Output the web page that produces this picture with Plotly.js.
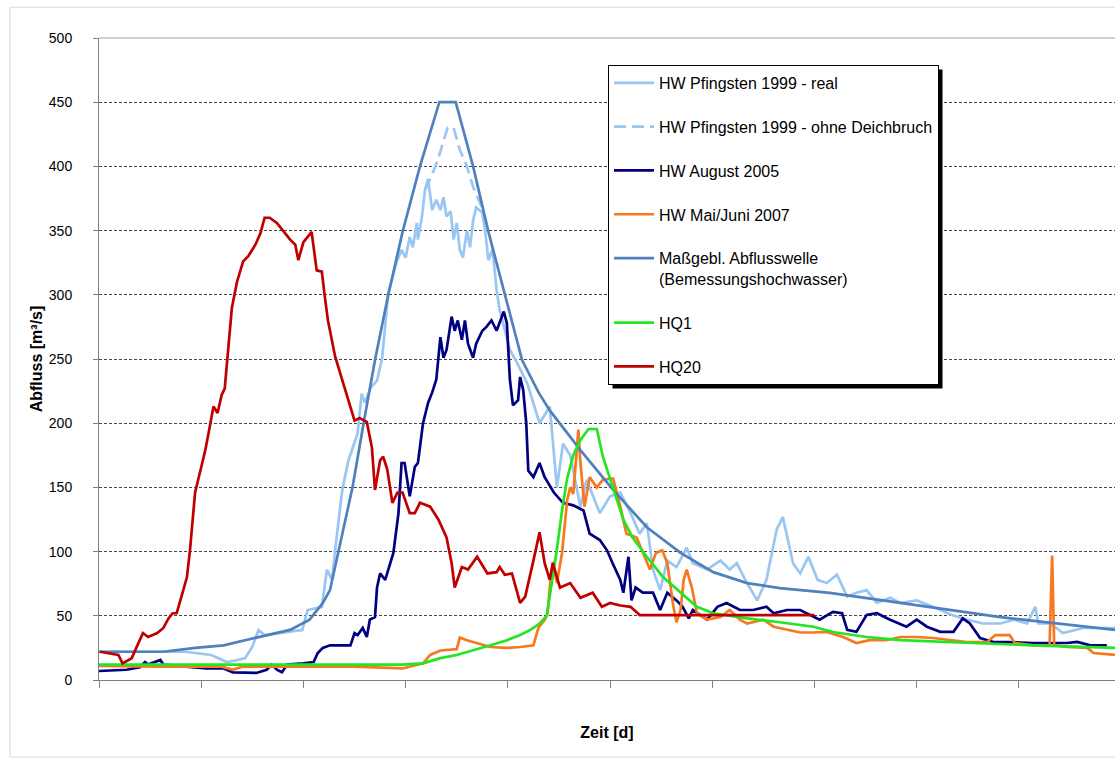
<!DOCTYPE html>
<html>
<head>
<meta charset="utf-8">
<script src="https://cdn.plot.ly/plotly-3.0.1.min.js"></script>
<style>html,body{margin:0;padding:0;background:#fff;}#chart{width:1115px;height:763px;}</style>
</head>
<body>
<div id="chart"></div>
<script>
// ---- Data (x in days, y in m³/s) ----
const seriesNames = [
  "HW Pfingsten 1999 - real",
  "HW Pfingsten 1999 - ohne Deichbruch",
  "HW August 2005",
  "HW Mai/Juni 2007",
  "Maßgebl. Abflusswelle<br>(Bemessungshochwasser)",
  "HQ1",
  "HQ20"
];

const real1999X = [0,0.84,1.1,1.2,1.25,1.36,1.43,1.5,1.56,1.62,1.79,1.99,2.04,2.18,2.23,2.28,2.31,2.38,2.44,2.53,2.57,2.6,2.66,2.72,2.77,2.83,
  2.91,2.96,3.0,3.04,3.07,3.11,3.12,3.16,3.19,3.22,3.26,3.3,3.34,3.37,3.4,3.44,3.47,3.5,3.53,3.56,3.6,3.63,3.66,3.69,3.75,3.78,3.81,3.85,3.89,3.92,
  4.02,4.09,4.19,4.31,4.41,4.48,4.54,4.61,4.71,4.77,4.9,5.0,5.1,5.2,5.29,5.36,5.42,5.49,5.56,5.65,5.75,5.81,5.95,6.08,6.17,6.24,6.34,6.44,6.53,6.63,6.69,6.79,6.86,6.94,7.03,7.12,7.22,7.32,7.41,7.51,7.61,7.74,7.84,8.0,8.16,8.33,8.49,8.65,8.82,8.95,9.08,9.16,9.19,9.31,9.43,9.63,9.94];
const real1999Y = [22,22,19.5,15.6,14,15.6,17,26,39,35,36.6,39,54.5,57,86,78,101,148,171,192,223,216,228,233,251,301,
  325,335,329,345,337,356,343,361,382,390,366,374,366,376,361,365,343,356,335,329,350,337,358,368,364,348,327,335,304,288,
  257,247,231,200,213,150,184,175,135,156,130,143,146,130,114,122,86,70,93,88,103,91,86,93,86,91,75.5,62,78,117,127,91,83,96,78,75.5,82,65,68,70,60,64,60,62,57,51,47,44,44,47,44,57,44,44,36.6,40.5,40.5];

const ohne1999X = [3.19,3.26,3.31,3.37,3.41,3.47,3.53,3.6,3.66,3.73,3.77];
const ohne1999Y = [382,394,404,420,430,430,413,400,384,371,364];

const aug2005X = [0,0.27,0.4,0.45,0.48,0.6,0.63,0.89,1.05,1.22,1.31,1.54,1.64,1.69,1.74,1.79,1.84,2.0,2.1,2.14,2.19,2.26,2.46,2.5,2.53,2.58,2.62,2.65,2.7,2.72,2.75,2.8,2.85,2.88,2.93,2.96,2.99,3.04,3.09,3.12,3.17,3.22,3.26,3.3,3.34,3.37,3.4,3.45,3.48,3.51,3.55,3.58,3.61,3.66,3.69,3.75,3.79,3.84,3.89,3.96,3.99,4.02,4.05,4.1,4.12,4.15,4.18,4.2,4.25,4.31,4.36,4.45,4.54,4.64,4.74,4.8,4.9,4.97,5.03,5.1,5.13,5.18,5.21,5.25,5.32,5.42,5.49,5.56,5.65,5.71,5.77,5.81,5.95,6.05,6.14,6.27,6.4,6.53,6.6,6.73,6.86,6.99,7.05,7.18,7.27,7.32,7.41,7.51,7.61,7.74,7.9,8.0,8.1,8.23,8.36,8.45,8.52,8.62,8.75,8.88,9.14,9.47,9.57,9.7,9.86];
const aug2005Y = [7,8,10,14,12,15.6,12,10,9,9,6,5.5,8,12,8,6,12,13,14,21,25,27,27,36.6,35,40.5,33.5,47,49,72,83,78,91,99,130,169,169,143,166,169,200,216,224,234,267,251,257,283,272,280,265,280,262,251,262,272,275,280,272,287,278,234,214,218,236,226,200,163,158,169,158,146,138,136,132,114,109,101,90,78,68,96,62,72,68,68,54.5,68,62,57,48,54.5,47,57,60,54.5,54.5,57,52,54.5,54.5,49,47,53,52,39,37.5,50.6,52,47,41.5,47,41.5,37.5,37.5,48,44,32.7,29.6,29.6,28.8,28.8,29.6,27,27];

const mai2007X = [0,0.6,1.2,1.31,1.4,2.0,2.5,2.97,3.17,3.24,3.34,3.5,3.53,3.6,3.7,3.83,3.99,4.12,4.25,4.3,4.36,4.39,4.41,4.44,4.48,4.53,4.58,4.61,4.64,4.69,4.71,4.75,4.8,4.87,4.93,5.03,5.1,5.16,5.26,5.32,5.39,5.45,5.51,5.56,5.62,5.65,5.69,5.72,5.75,5.8,5.85,5.95,6.08,6.17,6.27,6.34,6.5,6.6,6.73,6.86,6.99,7.12,7.28,7.41,7.54,7.7,7.84,8.0,8.16,8.33,8.49,8.69,8.77,8.91,8.96,9.14,9.3,9.325,9.345,9.47,9.67,9.73,9.94];
const mai2007Y = [11,10.4,10.4,8,10.4,10.4,10.4,9,13,19.5,23,24,33,31,28.8,25.7,25,25.7,27,41,46.7,52,72,92,75.5,99,140,150,145,195,169,135,158,150,156,157,135,114,111,99,86,99,101,91,57,45,54.5,78,86,72,52,47,49,54.5,47,44,47,41.5,39,37,37,37.4,33.5,28.8,31,31,33.5,33.5,32.7,31,29.6,29.6,35,35,28.8,27,27,97,27,25.7,25,21,19.5];

const bemessX = [0,0.63,0.94,1.22,1.54,1.87,2.06,2.19,2.26,2.34,2.48,2.6,2.7,2.83,2.97,3.14,3.33,3.49,3.66,3.81,3.97,4.14,4.3,4.41,4.71,5.03,5.36,5.69,6.01,6.34,6.66,6.86,7.15,7.84,8.82,9.94];
const bemessY = [22,22,25,27,33,39,47,60,70,99,150,205,249,300,349,400,450,450,400,349,300,249,224,210,179,148,119,99,84,75.5,71.6,70,67.8,60,49,39];

const hq1X = [0,2.97,3.17,3.34,3.5,3.66,3.83,3.99,4.12,4.22,4.31,4.38,4.43,4.48,4.53,4.58,4.64,4.71,4.79,4.87,4.93,5.03,5.13,5.22,5.36,5.52,5.69,5.85,6.01,6.34,6.66,6.99,7.18,7.51,7.84,8.49,9.14,9.94];
const hq1Y = [12,12,13,17,19.5,23,27,31,35,39,44,50,75,102,132,157,175,187,195.5,195.5,174,150,125,111,96,80,68,57,52,48,45,41.5,37.4,33.5,31,28.8,27,25];

const hq20X = [0.01,0.09,0.19,0.23,0.32,0.37,0.43,0.48,0.57,0.63,0.68,0.72,0.76,0.81,0.86,0.89,0.94,1.01,1.04,1.09,1.12,1.16,1.2,1.23,1.26,1.3,1.35,1.41,1.46,1.53,1.58,1.62,1.67,1.74,1.8,1.87,1.92,1.95,2.0,2.08,2.13,2.18,2.21,2.24,2.31,2.39,2.44,2.5,2.55,2.62,2.67,2.7,2.75,2.78,2.82,2.87,2.92,2.97,3.04,3.09,3.14,3.24,3.32,3.4,3.45,3.48,3.55,3.61,3.7,3.8,3.89,3.92,3.97,4.04,4.12,4.17,4.25,4.31,4.36,4.41,4.44,4.51,4.61,4.71,4.83,4.92,5.0,5.1,5.2,5.29,7.0];
const hq20Y = [22,21,19.5,13,17,26,36.6,33.5,36.6,40.5,48,52,52,66,80,101,146,169,179,200,213,208,222,227,252,290,310,326,330,339,348,360,360,356,350,343,339,327,341,349,319,318,298,280,252,231,216,202,204,201,181,148,171,174,164,138,146,146,130,130,138,135,125,111,91,72,88,86,96,83,84,88,82,83,60,65,93,115,91,78,91,72,75.5,64,68,57,60,58,57,50.6,50.6];

const yTicks = [0,50,100,150,200,250,300,350,400,450,500];
const xTicks = [0,1,2,3,4,5,6,7,8,9];

// ---- Styles ----
const colors = ["#99c6f2","#99c6f2","#000080","#f7781e","#4f81bd","#22e622","#c00000"];
const xs = [real1999X, ohne1999X, aug2005X, mai2007X, bemessX, hq1X, hq20X];
const ys = [real1999Y, ohne1999Y, aug2005Y, mai2007Y, bemessY, hq1Y, hq20Y];

const traces = seriesNames.map((n, i) => ({
  type: "scatter", mode: "lines", name: n,
  x: xs[i], y: ys[i],
  legendgroup: "g" + i,
  line: {color: colors[i], width: 2.7, dash: i === 1 ? "12px,6px" : "solid"},
  hoverinfo: "skip"
}));

const font = "Liberation Sans, Arial, sans-serif";
const layout = {
  width: 1115, height: 763,
  margin: {l: 99, r: 0, t: 38, b: 83},
  paper_bgcolor: "#fff", plot_bgcolor: "#fff",
  font: {family: font, size: 14, color: "#000"},
  showlegend: true,
  legend: {
    x: 0.501, y: 0.958, xanchor: "left", yanchor: "top",
    bgcolor: "#fff", bordercolor: "#000", borderwidth: 1,
    font: {family: font, size: 16, color: "#000"},
    tracegroupgap: 20, itemwidth: 40, valign: "top",
    traceorder: "grouped"
  },
  xaxis: {
    range: [0, 9.94], tickvals: xTicks, showticklabels: false,
    ticks: "outside", ticklen: 7, tickcolor: "#7f7f7f", tickwidth: 1,
    showline: true, linecolor: "#7f7f7f", linewidth: 1,
    showgrid: false, zeroline: false, fixedrange: true,
    title: {text: "<b>Zeit [d]</b>", font: {family: font, size: 16}, standoff: 39}
  },
  yaxis: {
    range: [0, 500], tickvals: yTicks, ticktext: yTicks.map(String),
    ticks: "outside", ticklen: 5, tickcolor: "#7f7f7f", tickwidth: 1,
    ticklabelstandoff: 18,
    tickfont: {family: font, size: 14, color: "#000"},
    showline: true, linecolor: "#7f7f7f", linewidth: 1,
    showgrid: true, gridcolor: "#444", griddash: "3px,2px", gridwidth: 1,
    zeroline: false, fixedrange: true,
    title: {text: "<b>Abfluss [m³/s]</b>", font: {family: font, size: 16}, standoff: 2}
  },
  shapes: [
    {type: "rect", xref: "paper", yref: "paper", x0: -0.0876, x1: 1.02, y0: -0.12, y1: 1.048,
     line: {color: "#d9d9d9", width: 1}, fillcolor: "rgba(0,0,0,0)", layer: "below"},
    {type: "line", xref: "paper", yref: "paper", x0: 0, x1: 1, y0: 1, y1: 1,
     line: {color: "#c0c0c0", width: 1.5}, layer: "above"}
  ]
};

Plotly.newPlot("chart", traces, layout, {displayModeBar: false, staticPlot: true}).then(gd => {
  const bg = gd.querySelector(".legend .bg");
  if (!bg) return;
  const r = bg.getBoundingClientRect();
  const g = gd.getBoundingClientRect();
  const sz = gd._fullLayout._size;
  const px2x = p => (p - g.left - sz.l) / sz.w;
  const py2y = p => 1 - (p - g.top - sz.t) / sz.h;
  const off = 4;
  const shadow = {type: "rect", xref: "paper", yref: "paper",
    x0: px2x(r.left + off), x1: px2x(r.right + off),
    y0: py2y(r.bottom + off), y1: py2y(r.top + off),
    line: {width: 0}, fillcolor: "#000", layer: "above"};
  Plotly.relayout(gd, {shapes: layout.shapes.concat([shadow])});
});
</script>
</body>
</html>
